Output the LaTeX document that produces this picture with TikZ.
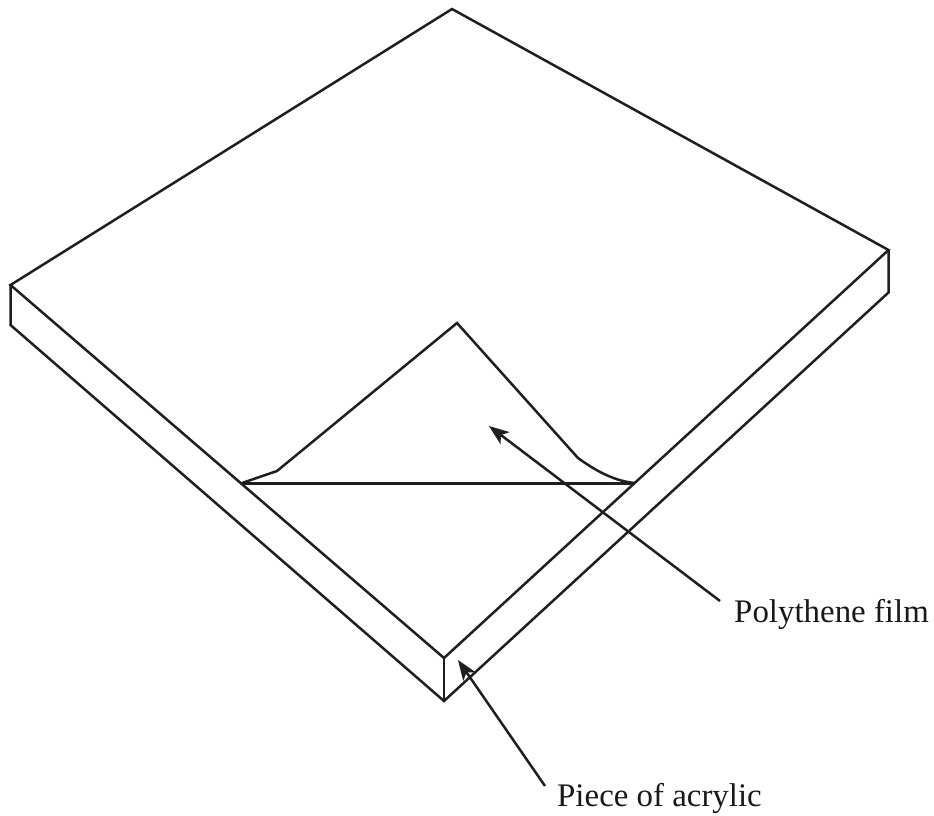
\documentclass[tikz,border=0pt]{standalone}
\usepackage{fontspec}
\setmainfont{Liberation Serif}
\usetikzlibrary{arrows.meta}
\tikzset{
  edge line/.style={line width=2.5pt,color=black!88,line join=miter},
  film base/.style={line width=3pt,color=black!88},
  pointer/.style={line width=2.5pt,color=black!88,-{Stealth[length=20pt,width=15pt,inset=5pt]}},
  caption/.style={font=\fontsize{32.9}{36}\selectfont,color=black!90,inner sep=0pt,anchor=base west}
}
\begin{document}
\begin{tikzpicture}[x=1pt,y=-1pt]
\useasboundingbox (0,0) rectangle (934,815);
\coordinate (top) at (452,9);
\coordinate (right) at (888.5,250);
\coordinate (rightlow) at (888.5,292.5);
\coordinate (front) at (444,658);
\coordinate (bottom) at (444,701);
\coordinate (left) at (10.5,285);
\coordinate (leftlow) at (10.5,325);
\coordinate (apex) at (457,323);
\coordinate (fl) at (242,483);
\coordinate (flk) at (277,471);
\coordinate (frk) at (578,458);
\coordinate (fr) at (635,483);
\draw[edge line] (top) -- (right) -- (front) -- (left) -- cycle;
\draw[edge line] (right) -- (rightlow) -- (bottom) -- (leftlow) -- (left);
\draw[edge line] (front) -- (bottom);
\draw[edge line] (fl) -- (flk) -- (apex) -- (frk) .. controls (592,468) and (612,481) .. (fr);
\draw[film base] (fl) -- (fr);
\node[caption] (film) at (734,622) {Polythene film};
\node[caption] (acrylic) at (557,806) {Piece of acrylic};
\coordinate (filmtail) at (720,601);
\coordinate (filmtip) at (489,426);
\coordinate (acrtail) at (545,786);
\coordinate (acrtip) at (458,660);
\draw[pointer] (filmtail) -- (filmtip);
\draw[pointer] (acrtail) -- (acrtip);
\end{tikzpicture}
\end{document}
